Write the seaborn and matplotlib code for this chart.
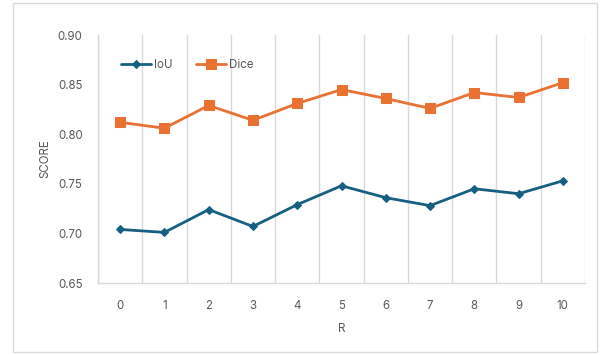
import matplotlib
matplotlib.use("Agg")
import matplotlib.pyplot as plt
from matplotlib.patches import Rectangle
from matplotlib.ticker import FixedLocator
import pandas as pd
import seaborn as sns

# Scores per R setting
r_values = [0, 1, 2, 3, 4, 5, 6, 7, 8, 9, 10]
iou = [0.704, 0.701, 0.724, 0.707, 0.729, 0.748, 0.736, 0.728, 0.745, 0.740, 0.753]
dice = [0.812, 0.806, 0.829, 0.814, 0.831, 0.845, 0.836, 0.826, 0.842, 0.837, 0.852]
y_ticks = [0.65, 0.70, 0.75, 0.80, 0.85, 0.90]

sns.set_theme(style="white")
plt.rcParams["font.family"] = ["Inter", "DejaVu Sans"]

text_color = "#595959"
grid_color = "#d9d9d9"
iou_color = "#156082"
dice_color = "#E97132"
fs = 8.3

df = pd.DataFrame({"R": r_values, "IoU": iou, "Dice": dice})

fig = plt.figure(figsize=(6.02, 3.55), dpi=100)
fig.patch.set_facecolor("white")
fig.patches.append(Rectangle((13 / 602, 3 / 355), 584 / 602, 349 / 355,
                             transform=fig.transFigure, fill=False,
                             edgecolor="#d9d9d9", linewidth=1.0))

ax = fig.add_axes([98 / 602, 1 - 283 / 355, 487 / 602, 248 / 355])

sns.lineplot(data=df, x="R", y="IoU", ax=ax, color=iou_color, marker="D",
             markersize=4.5, linewidth=2.0, markeredgecolor=iou_color, label="IoU")
sns.lineplot(data=df, x="R", y="Dice", ax=ax, color=dice_color, marker="s",
             markersize=7, linewidth=2.0, markeredgecolor=dice_color, label="Dice")

ax.set_xlim(-0.5, 10.5)
ax.set_ylim(0.65, 0.90)
ax.set_xticks(r_values)
ax.set_xticklabels([str(v) for v in r_values])
ax.set_yticks(y_ticks)
ax.set_yticklabels([f"{v:.2f}" for v in y_ticks])

# vertical gridlines between categories
ax.xaxis.set_minor_locator(FixedLocator([v - 0.5 for v in r_values] + [10.5]))
ax.grid(False)
ax.grid(True, which="minor", axis="x", color=grid_color, linewidth=1.0)

for side in ["top", "right"]:
    ax.spines[side].set_visible(False)
ax.spines["left"].set_color(grid_color)
ax.spines["bottom"].set_color(grid_color)
ax.spines["left"].set_linewidth(1.0)
ax.spines["bottom"].set_linewidth(1.0)

ax.tick_params(axis="both", which="major", labelsize=fs, colors=text_color,
               length=0)
ax.tick_params(axis="y", which="major", pad=11)
ax.tick_params(axis="x", which="major", pad=12)
ax.tick_params(which="minor", length=0)

ax.set_xlabel("R", fontsize=fs, color=text_color, labelpad=8)
ax.set_ylabel("SCORE", fontsize=fs, color=text_color, labelpad=5)

leg = ax.legend(loc="upper left", bbox_to_anchor=(0.025, 0.945), ncol=2,
                frameon=False, fontsize=fs, handlelength=2.6,
                columnspacing=2.0, handletextpad=0.3)
for t in leg.get_texts():
    t.set_color(text_color)

fig.savefig("out.png", dpi=100, facecolor="white")
